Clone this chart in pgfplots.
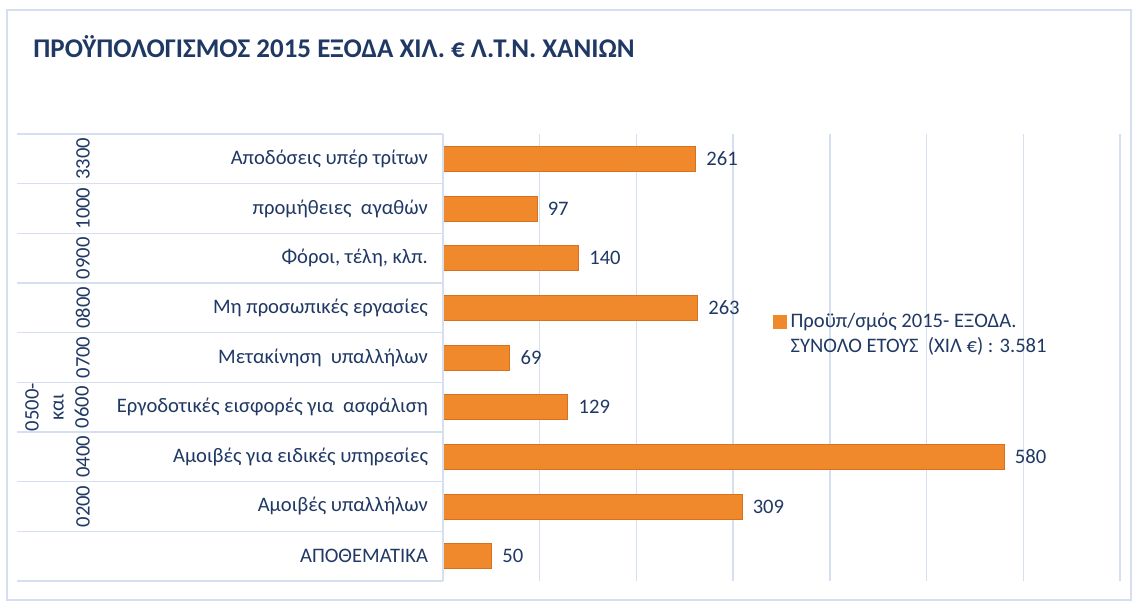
\documentclass[border=0pt]{standalone}
\usepackage{fontspec}
\setmainfont{Carlito}
\usepackage{pgfplots}
\pgfplotsset{compat=1.18}
\definecolor{txt}{HTML}{1F3864}
\definecolor{gridc}{HTML}{D6DFEF}
\definecolor{barc}{HTML}{F0882C}
\definecolor{bard}{HTML}{D9701E}

\begin{document}
\begin{tikzpicture}[x=1pt,y=1pt]
\useasboundingbox (-221.5,-10) rectangle (344.5,290.5);
\draw[gridc, line width=0.7pt] (-218,-9.5) rectangle (344,285.5);
\node[anchor=west, inner sep=0pt, font=\fontsize{13.5}{16}\selectfont\bfseries, text=txt] at (-205,267)
  {ΠΡΟΫΠΟΛΟΓΙΣΜΟΣ 2015 ΕΞΟΔΑ ΧΙΛ. € Λ.Τ.Ν. ΧΑΝΙΩΝ};
\begin{axis}[
  at={(0,0)}, anchor=south west, scale only axis,
  width=338.5pt, height=223.5pt,
  xbar, bar width=12.5pt,
  xmin=0, xmax=700, ymin=-0.5, ymax=8.5,
  axis line style={draw=none},
  xtick={100,200,...,700}, xticklabels={}, xmajorgrids,
  major grid style={gridc, line width=0.7pt},
  major tick length=0pt,
  ytick={0,...,8}, ytick pos=left, xtick pos=bottom,
  yticklabels={ΑΠΟΘΕΜΑΤΙΚΑ\ , Αμοιβές υπαλλήλων, Αμοιβές για ειδικές υπηρεσίες,
    Εργοδοτικές εισφορές για\ \ ασφάλιση, Μετακίνηση\ \ υπαλλήλων\ ,
    Μη προσωπικές εργασίες, {Φόροι, τέλη, κλπ.}, προμήθειες\ \ αγαθών,
    Αποδόσεις υπέρ τρίτων},
  yticklabel style={font=\fontsize{10.3}{12}\selectfont, text=txt, xshift=-4pt},
  minor ytick={-0.5,0.5,...,8.5}, minor tick length=213pt,
  minor tick style={gridc, line width=0.7pt}, tick align=outside,
  clip=false,
  legend style={at={(rel axis cs:0.478,0.552)}, anchor=west, draw=none, fill=none,
    font=\fontsize{10.3}{12}\selectfont, text=txt, row sep=-1pt},
  legend cell align=left,
]
\addplot[fill=barc, draw=bard, line width=0.3pt,
  legend image code/.code={\fill[barc] (0pt,-3pt) rectangle (6.5pt,3.5pt);},
  nodes near coords,
  nodes near coords style={font=\fontsize{10.3}{12}\selectfont, text=txt, anchor=west, xshift=2pt,
    /pgf/number format/assume math mode=true}]
  coordinates {(50,0) (309,1) (580,2) (129,3) (69,4) (263,5) (140,6) (97,7) (261,8)};
\addlegendentry{Προϋπ/σμός 2015- ΕΞΟΔΑ.}
\addlegendimage{empty legend}
\addlegendentry{ΣΥΝΟΛΟ ΕΤΟΥΣ\ \ (ΧΙΛ €) : 3.581}
\draw[gridc, line width=0.7pt] (rel axis cs:0,0) -- (rel axis cs:0,1);
\node[rotate=90, font=\fontsize{10.3}{12}\selectfont, text=txt] at ([xshift=-180pt]axis cs:0,1) {0200};
\node[rotate=90, font=\fontsize{10.3}{12}\selectfont, text=txt] at ([xshift=-180pt]axis cs:0,2) {0400};
\node[rotate=90, font=\fontsize{10.3}{12}\selectfont, text=txt] at ([xshift=-180pt]axis cs:0,4) {0700};
\node[rotate=90, font=\fontsize{10.3}{12}\selectfont, text=txt] at ([xshift=-180pt]axis cs:0,5) {0800};
\node[rotate=90, font=\fontsize{10.3}{12}\selectfont, text=txt] at ([xshift=-180pt]axis cs:0,6) {0900};
\node[rotate=90, font=\fontsize{10.3}{12}\selectfont, text=txt] at ([xshift=-180pt]axis cs:0,7) {1000};
\node[rotate=90, font=\fontsize{10.3}{12}\selectfont, text=txt] at ([xshift=-180pt]axis cs:0,8) {3300};
\node[rotate=90, align=center, font=\fontsize{10.3}{12.5}\selectfont, text=txt] at ([xshift=-193pt]axis cs:0,3) {0500-\\και\\0600};
\end{axis}
\end{tikzpicture}
\end{document}
